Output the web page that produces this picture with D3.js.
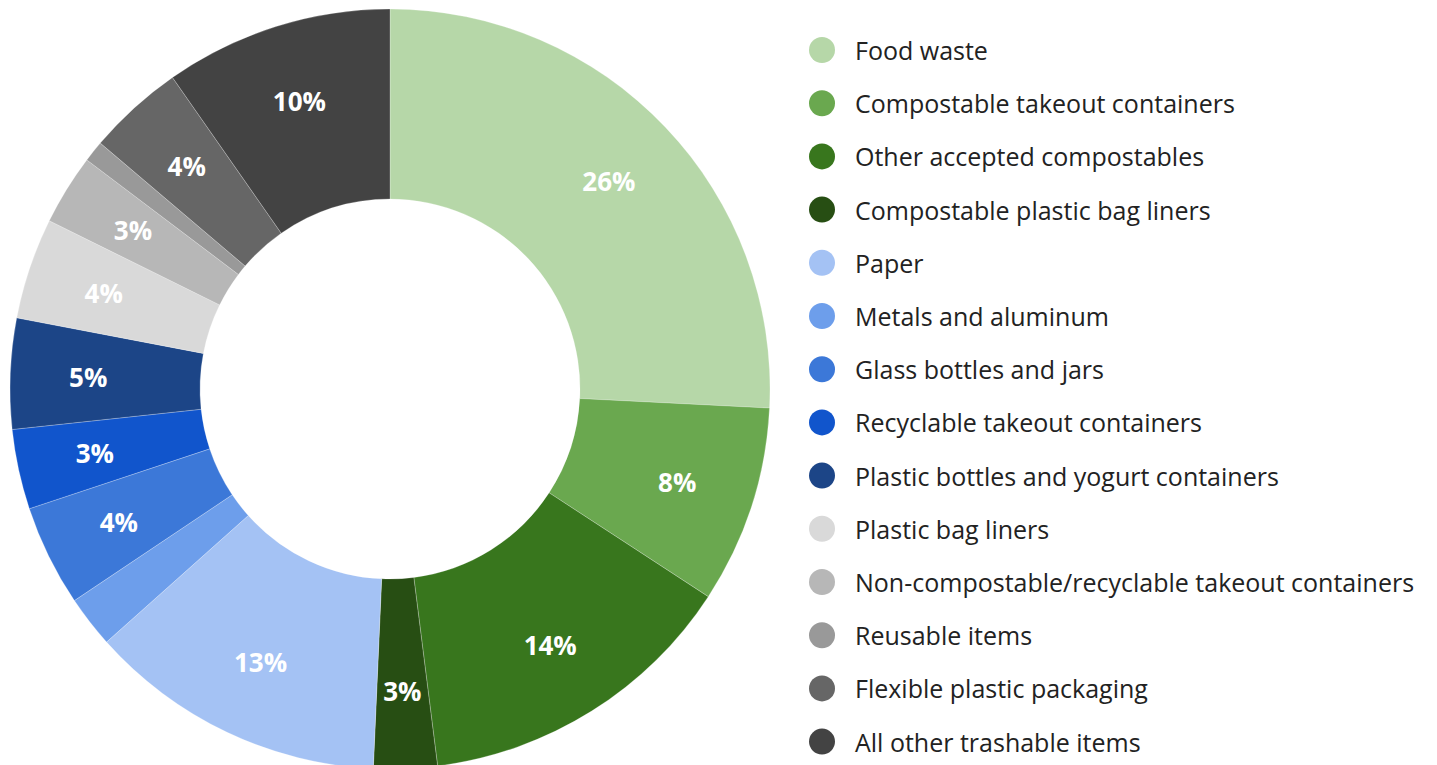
<!DOCTYPE html>
<html>
<head>
<meta charset="utf-8">
<script src="https://cdn.jsdelivr.net/npm/d3@7"></script>
<style>
    html, body { margin: 0; padding: 0; background: #fff; }
    svg { display: block; }
</style>
</head>
<body>
<svg id="chart" width="1437" height="765"></svg>
<script>
// data
var categories = [
    'Food waste',
    'Compostable takeout containers',
    'Other accepted compostables',
    'Compostable plastic bag liners',
    'Paper',
    'Metals and aluminum',
    'Glass bottles and jars',
    'Recyclable takeout containers',
    'Plastic bottles and yogurt containers',
    'Plastic bag liners',
    'Non-compostable/recyclable takeout containers',
    'Reusable items',
    'Flexible plastic packaging',
    'All other trashable items'
];
var shares = [25.8, 8.4, 13.8, 2.7, 12.7, 2.2, 4.3, 3.4, 4.7, 4.3, 3.0, 0.9, 4.1, 9.7];
var colors = [
    '#b6d7a8', '#6aa84f', '#38761d', '#274e13',
    '#a4c2f4', '#6d9eeb', '#3c78d8', '#1155cc', '#1c4587',
    '#d9d9d9', '#b7b7b7', '#999999', '#666666', '#434343'
];

var svg = d3.select('#chart');

var cx = 390, cy = 389;
var outerR = 380, innerR = 190, labelR = 302;

var data = categories.map(function (c, i) {
    return { name: c, value: shares[i], color: colors[i] };
});

var pie = d3.pie()
    .sort(null)
    .value(function (d) { return d.value; });

var arc = d3.arc()
    .innerRadius(innerR)
    .outerRadius(outerR);

var labelArc = d3.arc()
    .innerRadius(labelR)
    .outerRadius(labelR);

var g = svg.append('g')
    .attr('transform', `translate(${cx},${cy})`);

var arcs = pie(data);

// slices
g.selectAll('path.slice')
    .data(arcs)
    .enter()
    .append('path')
    .attr('class', 'slice')
    .attr('d', arc)
    .attr('fill', function (d) { return d.data.color; })
    .attr('stroke', 'rgba(255,255,255,0.35)')
    .attr('stroke-width', 0.7);

// percent labels (small slices get none)
g.selectAll('text.pct')
    .data(arcs.filter(function (d) { return d.data.value >= 2.5; }))
    .enter()
    .append('text')
    .attr('class', 'pct')
    .attr('transform', function (d) { return `translate(${labelArc.centroid(d)})`; })
    .attr('text-anchor', 'middle')
    .attr('dominant-baseline', 'central')
    .attr('fill', '#fff')
    .attr('font-family', 'Open Sans, sans-serif')
    .attr('font-weight', 700)
    .attr('font-size', 26)
    .text(function (d) { return Math.round(d.data.value) + '%'; });

// legend
var legend = svg.append('g')
    .attr('transform', 'translate(822,50)');

var rows = legend.selectAll('g.row')
    .data(data)
    .enter()
    .append('g')
    .attr('class', 'row')
    .attr('transform', function (d, i) { return `translate(0,${i * 53.2})`; });

rows.append('circle')
    .attr('r', 13)
    .attr('fill', function (d) { return d.color; });

rows.append('text')
    .attr('x', 33)
    .attr('dominant-baseline', 'central')
    .attr('fill', '#222')
    .attr('font-family', 'Open Sans, sans-serif')
    .attr('font-size', 25)
    .text(function (d) { return d.name; });
</script>
</body>
</html>
